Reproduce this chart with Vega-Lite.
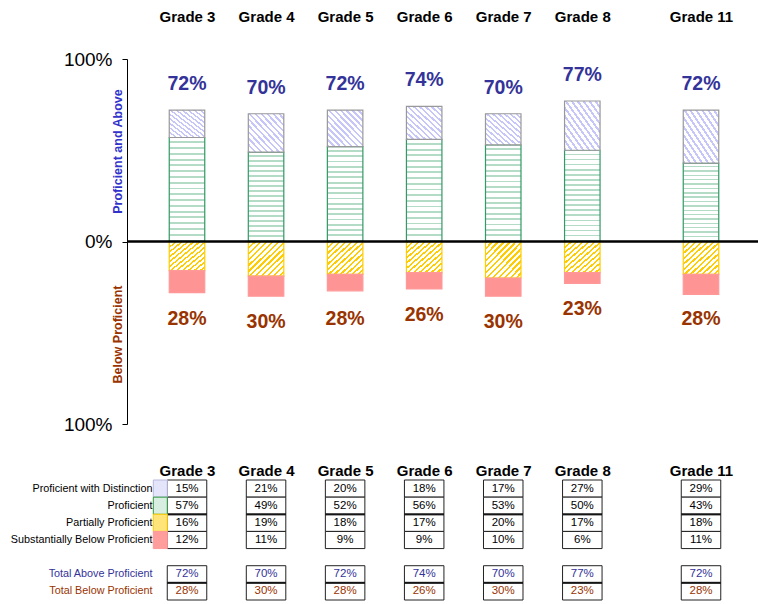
{
 "$schema": "https://vega.github.io/schema/vega-lite/v6.json",
 "padding": {"left": 10, "top": 9, "right": 0, "bottom": 0},
 "config": {"view": {"stroke": null}, "font": "Liberation Sans", "axis": {"grid": false}},
 "datasets": {"cells": [
  {"grade":3,"row":"Proficient with Distinction","pct":0.15},
  {"grade":3,"row":"Proficient","pct":0.57},
  {"grade":3,"row":"Partially Proficient","pct":0.16},
  {"grade":3,"row":"Substantially Below Proficient","pct":0.12},
  {"grade":3,"row":"Total Above Proficient","pct":0.72},
  {"grade":3,"row":"Total Below Proficient","pct":0.28},
  {"grade":4,"row":"Proficient with Distinction","pct":0.21},
  {"grade":4,"row":"Proficient","pct":0.49},
  {"grade":4,"row":"Partially Proficient","pct":0.19},
  {"grade":4,"row":"Substantially Below Proficient","pct":0.11},
  {"grade":4,"row":"Total Above Proficient","pct":0.70},
  {"grade":4,"row":"Total Below Proficient","pct":0.30},
  {"grade":5,"row":"Proficient with Distinction","pct":0.20},
  {"grade":5,"row":"Proficient","pct":0.52},
  {"grade":5,"row":"Partially Proficient","pct":0.18},
  {"grade":5,"row":"Substantially Below Proficient","pct":0.09},
  {"grade":5,"row":"Total Above Proficient","pct":0.72},
  {"grade":5,"row":"Total Below Proficient","pct":0.28},
  {"grade":6,"row":"Proficient with Distinction","pct":0.18},
  {"grade":6,"row":"Proficient","pct":0.56},
  {"grade":6,"row":"Partially Proficient","pct":0.17},
  {"grade":6,"row":"Substantially Below Proficient","pct":0.09},
  {"grade":6,"row":"Total Above Proficient","pct":0.74},
  {"grade":6,"row":"Total Below Proficient","pct":0.26},
  {"grade":7,"row":"Proficient with Distinction","pct":0.17},
  {"grade":7,"row":"Proficient","pct":0.53},
  {"grade":7,"row":"Partially Proficient","pct":0.20},
  {"grade":7,"row":"Substantially Below Proficient","pct":0.10},
  {"grade":7,"row":"Total Above Proficient","pct":0.70},
  {"grade":7,"row":"Total Below Proficient","pct":0.30},
  {"grade":8,"row":"Proficient with Distinction","pct":0.27},
  {"grade":8,"row":"Proficient","pct":0.50},
  {"grade":8,"row":"Partially Proficient","pct":0.17},
  {"grade":8,"row":"Substantially Below Proficient","pct":0.06},
  {"grade":8,"row":"Total Above Proficient","pct":0.77},
  {"grade":8,"row":"Total Below Proficient","pct":0.23},
  {"grade":11,"row":"Proficient with Distinction","pct":0.29},
  {"grade":11,"row":"Proficient","pct":0.43},
  {"grade":11,"row":"Partially Proficient","pct":0.18},
  {"grade":11,"row":"Substantially Below Proficient","pct":0.11},
  {"grade":11,"row":"Total Above Proficient","pct":0.72},
  {"grade":11,"row":"Total Below Proficient","pct":0.28}
 ]},
 "spacing": 29,
 "vconcat": [
  {
   "width": 631, "height": 365,
   "data": {"name": "cells"},
   "layer": [
    {"layer": [
      {"transform": [
         {"filter": "datum.row == 'Proficient' || datum.row == 'Proficient with Distinction'"},
         {"stack": "pct", "groupby": ["grade"], "sort": [{"field": "row", "order": "ascending"}], "as": ["y0", "y1"]}
       ],
       "layer": [
        {"transform": [{"filter": "datum.row == 'Proficient'"}],
         "mark": {"type": "bar", "width": 35.5, "stroke": "#339966", "strokeWidth": 1.2,
           "fill": {"gradient": "linear", "x1": 0, "y1": 0, "x2": 0, "y2": 1, "stops": [
             {"offset":0,"color":"#ffffff"},{"offset":0.037,"color":"#ffffff"},{"offset":0.037,"color":"#b3dbc5"},{"offset":0.0556,"color":"#b3dbc5"},
             {"offset":0.0556,"color":"#ffffff"},{"offset":0.0926,"color":"#ffffff"},{"offset":0.0926,"color":"#b3dbc5"},{"offset":0.1111,"color":"#b3dbc5"},
             {"offset":0.1111,"color":"#ffffff"},{"offset":0.1481,"color":"#ffffff"},{"offset":0.1481,"color":"#b3dbc5"},{"offset":0.1667,"color":"#b3dbc5"},
             {"offset":0.1667,"color":"#ffffff"},{"offset":0.2037,"color":"#ffffff"},{"offset":0.2037,"color":"#b3dbc5"},{"offset":0.2222,"color":"#b3dbc5"},
             {"offset":0.2222,"color":"#ffffff"},{"offset":0.2593,"color":"#ffffff"},{"offset":0.2593,"color":"#b3dbc5"},{"offset":0.2778,"color":"#b3dbc5"},
             {"offset":0.2778,"color":"#ffffff"},{"offset":0.3148,"color":"#ffffff"},{"offset":0.3148,"color":"#b3dbc5"},{"offset":0.3333,"color":"#b3dbc5"},
             {"offset":0.3333,"color":"#ffffff"},{"offset":0.3704,"color":"#ffffff"},{"offset":0.3704,"color":"#b3dbc5"},{"offset":0.3889,"color":"#b3dbc5"},
             {"offset":0.3889,"color":"#ffffff"},{"offset":0.4259,"color":"#ffffff"},{"offset":0.4259,"color":"#b3dbc5"},{"offset":0.4444,"color":"#b3dbc5"},
             {"offset":0.4444,"color":"#ffffff"},{"offset":0.4815,"color":"#ffffff"},{"offset":0.4815,"color":"#b3dbc5"},{"offset":0.5,"color":"#b3dbc5"},
             {"offset":0.5,"color":"#ffffff"},{"offset":0.537,"color":"#ffffff"},{"offset":0.537,"color":"#b3dbc5"},{"offset":0.5556,"color":"#b3dbc5"},
             {"offset":0.5556,"color":"#ffffff"},{"offset":0.5926,"color":"#ffffff"},{"offset":0.5926,"color":"#b3dbc5"},{"offset":0.6111,"color":"#b3dbc5"},
             {"offset":0.6111,"color":"#ffffff"},{"offset":0.6481,"color":"#ffffff"},{"offset":0.6481,"color":"#b3dbc5"},{"offset":0.6667,"color":"#b3dbc5"},
             {"offset":0.6667,"color":"#ffffff"},{"offset":0.7037,"color":"#ffffff"},{"offset":0.7037,"color":"#b3dbc5"},{"offset":0.7222,"color":"#b3dbc5"},
             {"offset":0.7222,"color":"#ffffff"},{"offset":0.7593,"color":"#ffffff"},{"offset":0.7593,"color":"#b3dbc5"},{"offset":0.7778,"color":"#b3dbc5"},
             {"offset":0.7778,"color":"#ffffff"},{"offset":0.8148,"color":"#ffffff"},{"offset":0.8148,"color":"#b3dbc5"},{"offset":0.8333,"color":"#b3dbc5"},
             {"offset":0.8333,"color":"#ffffff"},{"offset":0.8704,"color":"#ffffff"},{"offset":0.8704,"color":"#b3dbc5"},{"offset":0.8889,"color":"#b3dbc5"},
             {"offset":0.8889,"color":"#ffffff"},{"offset":0.9259,"color":"#ffffff"},{"offset":0.9259,"color":"#b3dbc5"},{"offset":0.9444,"color":"#b3dbc5"},
             {"offset":0.9444,"color":"#ffffff"},{"offset":0.9815,"color":"#ffffff"},{"offset":0.9815,"color":"#b3dbc5"},{"offset":1,"color":"#b3dbc5"}
           ]}},
         "encoding": {
           "x": {"field": "grade", "type": "quantitative",
             "scale": {"domain": [3, 8, 11], "range": [60, 455.3, 574], "nice": false, "zero": false, "padding": 0},
             "axis": {"orient": "top", "values": [3, 4, 5, 6, 7, 8, 11], "labelExpr": "'Grade ' + datum.value",
               "labelFontSize": 15, "labelFontWeight": "bold", "labelColor": "black", "labelPadding": 35,
               "labelFlush": false, "labelOverlap": false, "domain": false, "ticks": false, "grid": false, "title": null}},
           "y": {"field": "y1", "type": "quantitative",
             "scale": {"domain": [-1, 1], "nice": false, "zero": false},
             "axis": {"orient": "left", "values": [-1, 0, 1], "labelExpr": "format(abs(datum.value), '.0%')",
               "labelFontSize": 19, "labelColor": "black", "labelPadding": 10, "labelFlush": false, "labelOverlap": false,
               "tickSize": 5, "tickColor": "black", "tickWidth": 1, "domainColor": "black", "domainWidth": 1, "grid": false,
               "title": "Proficient and Above", "titleColor": "#3333cc", "titleFontSize": 12.5, "titleFontWeight": "bold",
               "titleX": -10, "titleY": 92, "titleAngle": -90, "titleAlign": "center", "titleBaseline": "middle"}},
           "y2": {"field": "y0"}
         }},
        {"transform": [{"filter": "datum.row == 'Proficient with Distinction'"}],
         "mark": {"type": "bar", "width": 35.5, "stroke": "#999999", "strokeWidth": 1.2,
           "fill": {"gradient": "linear", "x1": 0, "y1": 1, "x2": 1, "y2": 0, "stops": [
             {"offset":0,"color":"#c6c6f8"},{"offset":0.033,"color":"#c6c6f8"},{"offset":0.033,"color":"#ffffff"},{"offset":0.0833,"color":"#ffffff"},
             {"offset":0.0833,"color":"#c6c6f8"},{"offset":0.1163,"color":"#c6c6f8"},{"offset":0.1163,"color":"#ffffff"},{"offset":0.1667,"color":"#ffffff"},
             {"offset":0.1667,"color":"#c6c6f8"},{"offset":0.1997,"color":"#c6c6f8"},{"offset":0.1997,"color":"#ffffff"},{"offset":0.25,"color":"#ffffff"},
             {"offset":0.25,"color":"#c6c6f8"},{"offset":0.283,"color":"#c6c6f8"},{"offset":0.283,"color":"#ffffff"},{"offset":0.3333,"color":"#ffffff"},
             {"offset":0.3333,"color":"#c6c6f8"},{"offset":0.3663,"color":"#c6c6f8"},{"offset":0.3663,"color":"#ffffff"},{"offset":0.4167,"color":"#ffffff"},
             {"offset":0.4167,"color":"#c6c6f8"},{"offset":0.4497,"color":"#c6c6f8"},{"offset":0.4497,"color":"#ffffff"},{"offset":0.5,"color":"#ffffff"},
             {"offset":0.5,"color":"#c6c6f8"},{"offset":0.533,"color":"#c6c6f8"},{"offset":0.533,"color":"#ffffff"},{"offset":0.5833,"color":"#ffffff"},
             {"offset":0.5833,"color":"#c6c6f8"},{"offset":0.6163,"color":"#c6c6f8"},{"offset":0.6163,"color":"#ffffff"},{"offset":0.6667,"color":"#ffffff"},
             {"offset":0.6667,"color":"#c6c6f8"},{"offset":0.6997,"color":"#c6c6f8"},{"offset":0.6997,"color":"#ffffff"},{"offset":0.75,"color":"#ffffff"},
             {"offset":0.75,"color":"#c6c6f8"},{"offset":0.783,"color":"#c6c6f8"},{"offset":0.783,"color":"#ffffff"},{"offset":0.8333,"color":"#ffffff"},
             {"offset":0.8333,"color":"#c6c6f8"},{"offset":0.8663,"color":"#c6c6f8"},{"offset":0.8663,"color":"#ffffff"},{"offset":0.9167,"color":"#ffffff"},
             {"offset":0.9167,"color":"#c6c6f8"},{"offset":0.9497,"color":"#c6c6f8"},{"offset":0.9497,"color":"#ffffff"},{"offset":1,"color":"#ffffff"}
           ]}},
         "encoding": {
           "x": {"field": "grade", "type": "quantitative"},
           "y": {"field": "y1", "type": "quantitative"},
           "y2": {"field": "y0"}
         }}
       ]},
      {"transform": [{"filter": "datum.row == 'Total Above Proficient'"}],
       "mark": {"type": "text", "dy": -26, "fontSize": 19.5, "fontWeight": "bold", "color": "#333399", "baseline": "middle"},
       "encoding": {
         "x": {"field": "grade", "type": "quantitative"},
         "y": {"field": "pct", "type": "quantitative"},
         "text": {"field": "pct", "format": ".0%"}
       }}
    ]},
    {"layer": [
      {"transform": [
         {"filter": "datum.row == 'Partially Proficient' || datum.row == 'Substantially Below Proficient'"},
         {"stack": "pct", "groupby": ["grade"], "sort": [{"field": "row", "order": "ascending"}], "as": ["y0", "y1"]}
       ],
       "layer": [
        {"transform": [{"filter": "datum.row == 'Partially Proficient'"}],
         "mark": {"type": "bar", "width": 35.5, "stroke": "#ffcc00", "strokeWidth": 1.2,
           "fill": {"gradient": "linear", "x1": 0, "y1": 0, "x2": 1, "y2": 1, "stops": [
             {"offset":0,"color":"#ffcc00"},{"offset":0.033,"color":"#ffcc00"},{"offset":0.033,"color":"#ffffff"},{"offset":0.0833,"color":"#ffffff"},
             {"offset":0.0833,"color":"#ffcc00"},{"offset":0.1163,"color":"#ffcc00"},{"offset":0.1163,"color":"#ffffff"},{"offset":0.1667,"color":"#ffffff"},
             {"offset":0.1667,"color":"#ffcc00"},{"offset":0.1997,"color":"#ffcc00"},{"offset":0.1997,"color":"#ffffff"},{"offset":0.25,"color":"#ffffff"},
             {"offset":0.25,"color":"#ffcc00"},{"offset":0.283,"color":"#ffcc00"},{"offset":0.283,"color":"#ffffff"},{"offset":0.3333,"color":"#ffffff"},
             {"offset":0.3333,"color":"#ffcc00"},{"offset":0.3663,"color":"#ffcc00"},{"offset":0.3663,"color":"#ffffff"},{"offset":0.4167,"color":"#ffffff"},
             {"offset":0.4167,"color":"#ffcc00"},{"offset":0.4497,"color":"#ffcc00"},{"offset":0.4497,"color":"#ffffff"},{"offset":0.5,"color":"#ffffff"},
             {"offset":0.5,"color":"#ffcc00"},{"offset":0.533,"color":"#ffcc00"},{"offset":0.533,"color":"#ffffff"},{"offset":0.5833,"color":"#ffffff"},
             {"offset":0.5833,"color":"#ffcc00"},{"offset":0.6163,"color":"#ffcc00"},{"offset":0.6163,"color":"#ffffff"},{"offset":0.6667,"color":"#ffffff"},
             {"offset":0.6667,"color":"#ffcc00"},{"offset":0.6997,"color":"#ffcc00"},{"offset":0.6997,"color":"#ffffff"},{"offset":0.75,"color":"#ffffff"},
             {"offset":0.75,"color":"#ffcc00"},{"offset":0.783,"color":"#ffcc00"},{"offset":0.783,"color":"#ffffff"},{"offset":0.8333,"color":"#ffffff"},
             {"offset":0.8333,"color":"#ffcc00"},{"offset":0.8663,"color":"#ffcc00"},{"offset":0.8663,"color":"#ffffff"},{"offset":0.9167,"color":"#ffffff"},
             {"offset":0.9167,"color":"#ffcc00"},{"offset":0.9497,"color":"#ffcc00"},{"offset":0.9497,"color":"#ffffff"},{"offset":1,"color":"#ffffff"}
           ]}},
         "encoding": {
           "x": {"field": "grade", "type": "quantitative"},
           "y": {"field": "y1", "type": "quantitative",
             "scale": {"domain": [-1, 1], "reverse": true, "nice": false, "zero": false},
             "axis": {"orient": "left", "labels": false, "ticks": false, "domain": false, "grid": false,
               "title": "Below Proficient", "titleColor": "#993300", "titleFontSize": 12.5, "titleFontWeight": "bold",
               "titleX": -10, "titleY": 275, "titleAngle": -90, "titleAlign": "center", "titleBaseline": "middle"}},
           "y2": {"field": "y0"}
         }},
        {"transform": [{"filter": "datum.row == 'Substantially Below Proficient'"}],
         "mark": {"type": "bar", "width": 35.5, "stroke": "#ff9999", "strokeWidth": 1.2, "fill": "#ff9494"},
         "encoding": {
           "x": {"field": "grade", "type": "quantitative"},
           "y": {"field": "y1", "type": "quantitative"},
           "y2": {"field": "y0"}
         }}
       ]},
      {"transform": [{"filter": "datum.row == 'Total Below Proficient'"}],
       "mark": {"type": "text", "dy": 26, "fontSize": 19.5, "fontWeight": "bold", "color": "#993300", "baseline": "middle"},
       "encoding": {
         "x": {"field": "grade", "type": "quantitative"},
         "y": {"field": "pct", "type": "quantitative"},
         "text": {"field": "pct", "format": ".0%"}
       }},
      {"data": {"values": [{}]},
       "mark": {"type": "rule", "color": "black", "strokeWidth": 2.5},
       "encoding": {"y": {"datum": 0, "type": "quantitative"}}}
    ]}
   ],
   "resolve": {"scale": {"y": "independent"}}
  },
  {
   "width": 631, "height": 120,
   "data": {"name": "cells"},
   "layer": [
    {"mark": {"type": "bar", "orient": "vertical", "width": 39.5, "fill": "white", "stroke": "#222222", "strokeWidth": 1},
     "encoding": {
       "x": {"field": "grade", "type": "quantitative",
         "scale": {"domain": [3, 8, 11], "range": [60, 455.3, 574], "nice": false, "zero": false, "padding": 0},
         "axis": {"orient": "top", "values": [3, 4, 5, 6, 7, 8, 11], "labelExpr": "'Grade ' + datum.value",
           "labelFontSize": 15, "labelFontWeight": "bold", "labelColor": "black", "labelPadding": 2,
           "labelFlush": false, "labelOverlap": false, "domain": false, "ticks": false, "grid": false, "title": null}},
       "y": {"field": "row", "type": "nominal", "sort": null,
         "scale": {"domain": ["Proficient with Distinction", "Proficient", "Partially Proficient", "Substantially Below Proficient", " ", "Total Above Proficient", "Total Below Proficient"], "paddingInner": 0, "paddingOuter": 0},
         "axis": {"orient": "left", "offset": -27, "labelPadding": 2, "ticks": false, "tickSize": 0, "domain": false, "grid": false, "title": null,
           "labelFontSize": 10.8, "labelLimit": 300,
           "labelColor": {"condition": [{"test": "datum.value == 'Total Above Proficient'", "value": "#333399"}, {"test": "datum.value == 'Total Below Proficient'", "value": "#993300"}], "value": "black"}}}
     }},
    {"transform": [{"filter": "datum.row == 'Partially Proficient' || datum.row == 'Total Below Proficient'"}],
     "mark": {"type": "tick", "orient": "horizontal", "size": 39.5, "thickness": 2.2, "color": "black"},
     "encoding": {
       "x": {"field": "grade", "type": "quantitative"},
       "y": {"field": "row", "type": "nominal", "bandPosition": 0}
     }},
    {"mark": {"type": "text", "fontSize": 11.5, "baseline": "middle"},
     "encoding": {
       "x": {"field": "grade", "type": "quantitative"},
       "y": {"field": "row", "type": "nominal"},
       "text": {"field": "pct", "format": ".0%"},
       "fill": {"condition": [{"test": "datum.row == 'Total Above Proficient'", "value": "#333399"}, {"test": "datum.row == 'Total Below Proficient'", "value": "#993300"}], "value": "black"}
     }},
    {"transform": [{"filter": "datum.grade == 3 && (datum.row == 'Proficient with Distinction' || datum.row == 'Proficient' || datum.row == 'Partially Proficient' || datum.row == 'Substantially Below Proficient')"}],
     "mark": {"type": "bar", "orient": "vertical", "width": 14, "xOffset": -26.7, "strokeWidth": 1},
     "encoding": {
       "x": {"field": "grade", "type": "quantitative"},
       "y": {"field": "row", "type": "nominal"},
       "fill": {"field": "row", "type": "nominal", "legend": null,
         "scale": {"domain": ["Proficient with Distinction", "Proficient", "Partially Proficient", "Substantially Below Proficient"], "range": ["#e4e4fa", "#d8eee0", "#ffe47a", "#ff9c9c"]}},
       "stroke": {"field": "row", "type": "nominal", "legend": null,
         "scale": {"domain": ["Proficient with Distinction", "Proficient", "Partially Proficient", "Substantially Below Proficient"], "range": ["#b8b8dc", "#33993f", "#ffcc00", "#ff9999"]}}
     }}
   ]
  }
 ]
}
